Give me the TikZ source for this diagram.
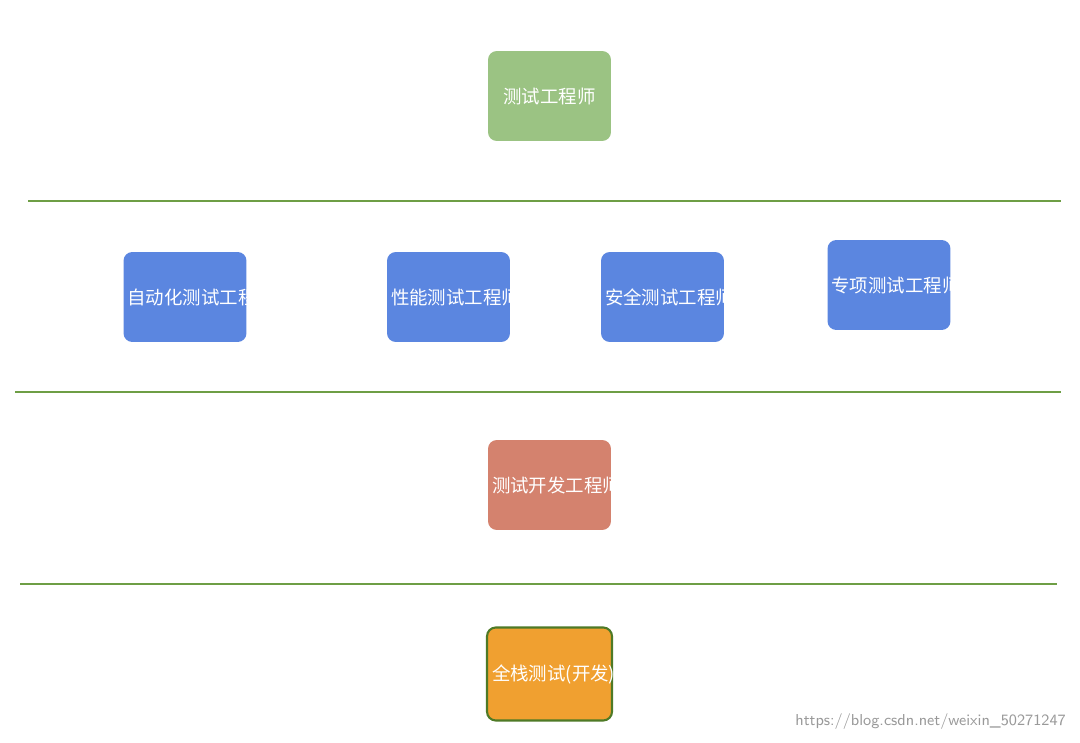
\documentclass[tikz,border=0pt]{standalone}
\usepackage{fontspec}
\newfontfamily\cjk{Noto Sans CJK SC}
\definecolor{boxgreen}{HTML}{9BC383}
\definecolor{boxblue}{HTML}{5B86E0}
\definecolor{boxred}{HTML}{D4826E}
\definecolor{boxorange}{HTML}{F0A030}
\definecolor{linegreen}{HTML}{6E9E45}
\definecolor{edgegreen}{HTML}{4E7A26}
\tikzset{
  role/.style={rounded corners=5pt, minimum width=2.46cm, minimum height=1.8cm,
    text=white, font=\cjk\fontsize{10.5}{13}\selectfont, align=center, text width=2.3cm, inner sep=1pt},
  sep/.style={linegreen, line width=1.4pt}
}
\begin{document}
\begin{tikzpicture}[x=0.02cm,y=-0.02cm]
			\useasboundingbox (0,0) rectangle (1080,743);
			
			\node[role, fill=boxgreen] (tester) at (549.5,96) {测试工程师};
			\draw[sep] (28,201) -- (1061,201);
			
			\node[role, fill=boxblue] (auto) at (185,297) {自动化测试工程师};
			\node[role, fill=boxblue] (perf) at (448.5,297) {性能测试工程师};
			\node[role, fill=boxblue] (sec) at (662.5,297) {安全测试工程师};
			\node[role, fill=boxblue] (spec) at (889,285) {专项测试工程师};
			\draw[sep] (15,392) -- (1061,392);
			
			\node[role, fill=boxred] (dev) at (549.5,485) {测试开发工程师};
			\draw[sep] (20,584) -- (1057,584);
			
			\node[role, fill=boxorange, draw=edgegreen, line width=1.2pt, minimum width=2.5cm, minimum height=1.86cm] (full) at (549.5,674) {全栈测试(开发)工程师};
			
			\node[anchor=east, text=gray!80, font=\sffamily\fontsize{9}{11}\selectfont] (mark) at (1072,722) {https://blog.csdn.net/weixin\_50271247};
\end{tikzpicture}
\end{document}
